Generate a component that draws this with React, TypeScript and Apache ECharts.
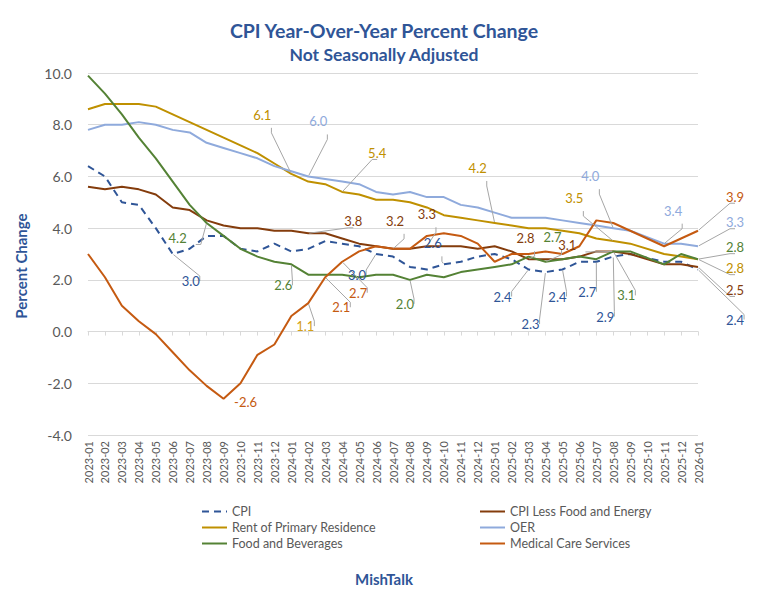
import React, { useEffect, useRef } from "react";
import * as echarts from "echarts";

const months = [
  "2023-01", "2023-02", "2023-03", "2023-04", "2023-05", "2023-06", "2023-07", "2023-08", "2023-09", "2023-10", "2023-11", "2023-12",
  "2024-01", "2024-02", "2024-03", "2024-04", "2024-05", "2024-06", "2024-07", "2024-08", "2024-09", "2024-10", "2024-11", "2024-12",
  "2025-01", "2025-02", "2025-03", "2025-04", "2025-05", "2025-06", "2025-07", "2025-08", "2025-09", "2025-10", "2025-11", "2025-12",
  "2026-01",
];

const cpi = [6.4, 6.0, 5.0, 4.9, 4.0, 3.0, 3.2, 3.7, 3.7, 3.2, 3.1, 3.4, 3.1, 3.2, 3.5, 3.4, 3.3, 3.0, 2.9, 2.5, 2.4, 2.6, 2.7, 2.9, 3.0, 2.8, 2.4, 2.3, 2.4, 2.7, 2.7, 2.9, 3.0, null, 2.7, 2.7, 2.4];
const core = [5.6, 5.5, 5.6, 5.5, 5.3, 4.8, 4.7, 4.3, 4.1, 4.0, 4.0, 3.9, 3.9, 3.8, 3.8, 3.6, 3.4, 3.3, 3.2, 3.2, 3.3, 3.3, 3.3, 3.2, 3.3, 3.1, 2.8, 2.8, 2.8, 2.9, 3.1, 3.1, 3.0, null, 2.6, 2.6, 2.5];
const rent = [8.6, 8.8, 8.8, 8.8, 8.7, 8.4, 8.1, 7.8, 7.5, 7.2, 6.9, 6.5, 6.1, 5.8, 5.7, 5.4, 5.3, 5.1, 5.1, 5.0, 4.8, 4.5, 4.4, 4.3, 4.2, 4.1, 4.0, 4.0, 3.9, 3.8, 3.6, 3.5, 3.4, null, 3.0, 2.9, 2.8];
const oer = [7.8, 8.0, 8.0, 8.1, 8.0, 7.8, 7.7, 7.3, 7.1, 6.9, 6.7, 6.4, 6.2, 6.0, 5.9, 5.8, 5.7, 5.4, 5.3, 5.4, 5.2, 5.2, 4.9, 4.8, 4.6, 4.4, 4.4, 4.4, 4.3, 4.2, 4.1, 4.0, 3.9, null, 3.4, 3.4, 3.3];
const food = [9.9, 9.2, 8.4, 7.5, 6.7, 5.8, 4.9, 4.2, 3.7, 3.2, 2.9, 2.7, 2.6, 2.2, 2.2, 2.2, 2.1, 2.2, 2.2, 2.0, 2.2, 2.1, 2.3, 2.4, 2.5, 2.6, 2.9, 2.7, 2.8, 2.9, 2.8, 3.1, 3.1, null, 2.6, 3.0, 2.8];
const medical = [3.0, 2.1, 1.0, 0.4, -0.1, -0.8, -1.5, -2.1, -2.6, -2.0, -0.9, -0.5, 0.6, 1.1, 2.1, 2.7, 3.1, 3.3, 3.2, 3.2, 3.7, 3.8, 3.7, 3.4, 2.7, 3.0, 3.0, 3.1, 3.0, 3.3, 4.3, 4.2, 3.9, null, 3.3, 3.6, 3.9];

const yMin = -4;
const yMax = 10;
const yStep = 2;

const NAMES = {
  cpi: "CPI",
  core: "CPI Less Food and Energy",
  rent: "Rent of Primary Residence",
  oer: "OER",
  food: "Food and Beverages",
  medical: "Medical Care Services",
};

const COLORS: Record<string, string> = {
  cpi: "#2F5597",
  core: "#843C0C",
  rent: "#BF9000",
  oer: "#8FAADC",
  food: "#548235",
  medical: "#C55A11",
};

// Callout labels: which point, and where the label sits relative to it (px)
type Callout = { key: string; month: string; dx: number; dy: number; color?: string; leader?: boolean };
const callouts: Callout[] = [
  { key: "rent", month: "2024-01", dx: -29, dy: -59 },
  { key: "oer", month: "2024-02", dx: 10, dy: -55 },
  { key: "rent", month: "2024-04", dx: 35, dy: -39 },
  { key: "rent", month: "2025-01", dx: -17, dy: -55 },
  { key: "oer", month: "2025-08", dx: -23, dy: -52 },
  { key: "rent", month: "2025-08", dx: -39, dy: -43 },
  { key: "oer", month: "2025-11", dx: 9, dy: -33 },
  { key: "medical", month: "2026-01", dx: 37, dy: -34 },
  { key: "oer", month: "2026-01", dx: 37, dy: -24 },
  { key: "food", month: "2026-01", dx: 37, dy: -12 },
  { key: "rent", month: "2026-01", dx: 37, dy: 9 },
  { key: "core", month: "2026-01", dx: 37, dy: 23 },
  { key: "cpi", month: "2026-01", dx: 37, dy: 50 },
  { key: "food", month: "2023-08", dx: -29, dy: 15 },
  { key: "cpi", month: "2023-06", dx: 18, dy: 27 },
  { key: "food", month: "2024-01", dx: -8, dy: 21 },
  { key: "medical", month: "2024-02", dx: -3, dy: 23, color: "#D4A017" },
  { key: "medical", month: "2023-09", dx: 22, dy: 3, leader: false },
  { key: "core", month: "2024-02", dx: 45, dy: -12 },
  { key: "core", month: "2024-07", dx: 2, dy: -28 },
  { key: "core", month: "2024-09", dx: 0, dy: -32 },
  { key: "cpi", month: "2024-10", dx: -11, dy: -21 },
  { key: "cpi", month: "2024-06", dx: -19, dy: 21 },
  { key: "medical", month: "2024-04", dx: 16, dy: 31 },
  { key: "medical", month: "2024-03", dx: 16, dy: 30 },
  { key: "food", month: "2024-08", dx: -5, dy: 24 },
  { key: "cpi", month: "2025-03", dx: -26, dy: 27 },
  { key: "cpi", month: "2025-04", dx: -15, dy: 52 },
  { key: "core", month: "2025-03", dx: -3, dy: -21 },
  { key: "food", month: "2025-04", dx: 7, dy: -25 },
  { key: "core", month: "2025-08", dx: -46, dy: -6 },
  { key: "cpi", month: "2025-05", dx: -5, dy: 27 },
  { key: "cpi", month: "2025-07", dx: -9, dy: 30 },
  { key: "cpi", month: "2025-08", dx: -8, dy: 60 },
  { key: "food", month: "2025-08", dx: 13, dy: 44 },
];

const FONT = "Lato, 'Liberation Sans', sans-serif";
const GRAY = "#595959";
const BLUE = "#2F5597";

function buildData(key: string, values: (number | null)[]) {
  return values.map((v, i) => {
    const c = callouts.find((cc) => cc.key === key && cc.month === months[i]);
    if (!c || v == null) return v;
    return {
      value: v,
      symbol: "circle",
      symbolSize: 2,
      itemStyle: { color: "rgba(0,0,0,0)", borderWidth: 0 },
      label: {
        show: true,
        position: "inside",
        offset: [c.dx, c.dy],
        color: c.color || COLORS[key],
        fontSize: 13,
        fontFamily: FONT,
        formatter: v.toFixed(1),
      },
      labelLine: {
        show: c.leader !== false,
        length2: 5,
        lineStyle: { color: "#A6A6A6", width: 1 },
      },
    };
  });
}

function makeSeries(key: string, values: (number | null)[]) {
  return {
    name: (NAMES as any)[key],
    type: "line",
    data: buildData(key, values),
    symbol: "none",
    showSymbol: true,
    showAllSymbol: true,
    connectNulls: true,
    lineStyle: {
      color: COLORS[key],
      width: 2,
      type: key === "cpi" ? [7, 5] : "solid",
    },
    itemStyle: { color: COLORS[key] },
    emphasis: { disabled: true },
    labelLine: { show: false },
  };
}

export default function App() {
  const ref = useRef<HTMLDivElement>(null);
  useEffect(() => {
    if (!ref.current) return;
    const chart = echarts.init(ref.current, undefined, { renderer: "svg" });
    const legendCommon = {
      orient: "vertical",
      itemWidth: 25,
      itemHeight: 14,
      itemGap: 3,
      itemStyle: { opacity: 0 },
      textStyle: { color: GRAY, fontSize: 12.5, fontFamily: FONT },
    };
    chart.setOption({
      animation: false,
      backgroundColor: "#FFFFFF",
      textStyle: { fontFamily: FONT },
      title: [
        {
          text: "CPI Year-Over-Year Percent Change",
          left: "center",
          top: 15,
          textStyle: { color: BLUE, fontSize: 19.5, fontWeight: "bold", fontFamily: FONT },
        },
        {
          text: "Not Seasonally Adjusted",
          left: "center",
          top: 40,
          textStyle: { color: BLUE, fontSize: 17.5, fontWeight: "bold", fontFamily: FONT },
        },
        {
          text: "MishTalk",
          left: "center",
          top: 566,
          textStyle: { color: BLUE, fontSize: 15, fontWeight: "bold", fontFamily: FONT },
        },
      ],
      legend: [
        { ...legendCommon, left: 196, top: 500, data: [NAMES.cpi, NAMES.rent, NAMES.food] },
        { ...legendCommon, left: 474, top: 500, data: [NAMES.core, NAMES.oer, NAMES.medical] },
      ],
      graphic: [
        {
          type: "text",
          x: 21,
          y: 266,
          rotation: Math.PI / 2,
          style: {
            text: "Percent Change",
            fill: BLUE,
            font: `bold 15px ${FONT}`,
            textAlign: "center",
            textVerticalAlign: "middle",
          },
        },
      ],
      grid: { left: 88, right: 70, top: 73, bottom: 172, containLabel: false },
      xAxis: [
        {
          type: "category",
          data: months,
          boundaryGap: false,
          position: "bottom",
          axisLine: { show: false, onZero: false },
          axisTick: { show: false },
          axisLabel: {
            rotate: 90,
            interval: 0,
            margin: 6,
            color: GRAY,
            fontSize: 11,
            fontFamily: FONT,
          },
          splitLine: { show: false },
        },
        {
          type: "category",
          data: months,
          boundaryGap: false,
          position: "bottom",
          axisLine: { show: true, onZero: true, lineStyle: { color: "#D9D9D9", width: 1 } },
          axisTick: { show: true, interval: 0, length: 4, lineStyle: { color: "#D9D9D9" } },
          axisLabel: { show: false },
          splitLine: { show: false },
        },
      ],
      yAxis: {
        type: "value",
        min: yMin,
        max: yMax,
        interval: yStep,
        axisLine: { show: false },
        axisTick: { show: false },
        axisLabel: {
          color: GRAY,
          fontSize: 14,
          fontFamily: FONT,
          margin: 16,
          formatter: (v: number) => v.toFixed(1),
        },
        splitLine: { lineStyle: { color: "#D9D9D9", width: 1 } },
      },
      series: [
        makeSeries("cpi", cpi),
        makeSeries("core", core),
        makeSeries("rent", rent),
        makeSeries("oer", oer),
        makeSeries("food", food),
        makeSeries("medical", medical),
      ],
    });
    return () => chart.dispose();
  }, []);
  return <div ref={ref} style={{ position: "fixed", left: 0, top: 0, width: 768, height: 607 }} />;
}
